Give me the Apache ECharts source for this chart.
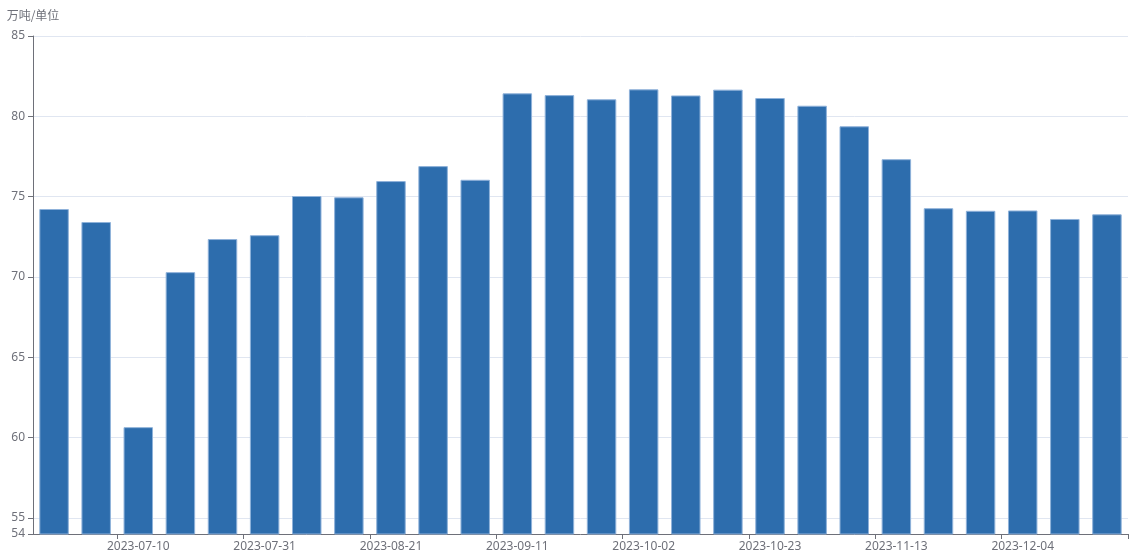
<!DOCTYPE html>
<html>
<head>
<meta charset="utf-8">
<script src="https://cdn.jsdelivr.net/npm/echarts@6/dist/echarts.min.js"></script>
<style>
html,body{margin:0;padding:0;background:#fff;}
#c{width:1140px;height:555px;}
</style>
</head>
<body>
<div id="c"></div>
<script>
const categories = ['2023-06-26','2023-07-03','2023-07-10','2023-07-17','2023-07-24','2023-07-31','2023-08-07','2023-08-14','2023-08-21','2023-08-28','2023-09-04','2023-09-11','2023-09-18','2023-09-25','2023-10-02','2023-10-09','2023-10-16','2023-10-23','2023-10-30','2023-11-06','2023-11-13','2023-11-20','2023-11-27','2023-12-04','2023-12-11','2023-12-18'];
const values = [74.23,73.42,60.65,70.3,72.36,72.6,75.04,74.96,75.97,76.9,76.05,81.43,81.32,81.06,81.68,81.3,81.66,81.14,80.66,79.38,77.33,74.28,74.12,74.14,73.61,73.9];
const yName = '万吨/单位';

const chart = echarts.init(document.getElementById('c'), null, {renderer:'canvas'});
const font = "'Noto Sans', 'Noto Sans CJK SC', sans-serif";
const showIdx = (i) => i % 3 === 2;
chart.setOption({
  animation:false,
  grid:{left:33, right:12, top:36, bottom:21, containLabel:false},
  xAxis:{
    type:'category',
    data:categories,
    boundaryGap:true,
    axisLine:{lineStyle:{color:'#6e7079'}},
    axisTick:{show:true, interval:showIdx, lineStyle:{color:'#6e7079'}},
    axisLabel:{interval:showIdx, color:'#6e7079', fontSize:12, fontFamily:font, margin:7},
    splitLine:{show:false}
  },
  yAxis:{
    type:'value',
    min:54, max:85,
    name:yName,
    nameTextStyle:{color:'#6e7079', fontSize:12, fontFamily:"'Noto Sans CJK SC', sans-serif"},
    axisLine:{show:true, lineStyle:{color:'#6e7079'}},
    axisTick:{show:true, lineStyle:{color:'#6e7079'}},
    axisLabel:{color:'#6e7079', fontSize:12, fontFamily:font},
    splitLine:{lineStyle:{color:'#e0e6f1'}}
  },
  series:[{
    type:'bar',
    data:values,
    barWidth:'70%',
    itemStyle:{color:'#2d6dad', borderColor:'#8fb2da', borderWidth:1}
  }]
});
</script>
</body>
</html>
